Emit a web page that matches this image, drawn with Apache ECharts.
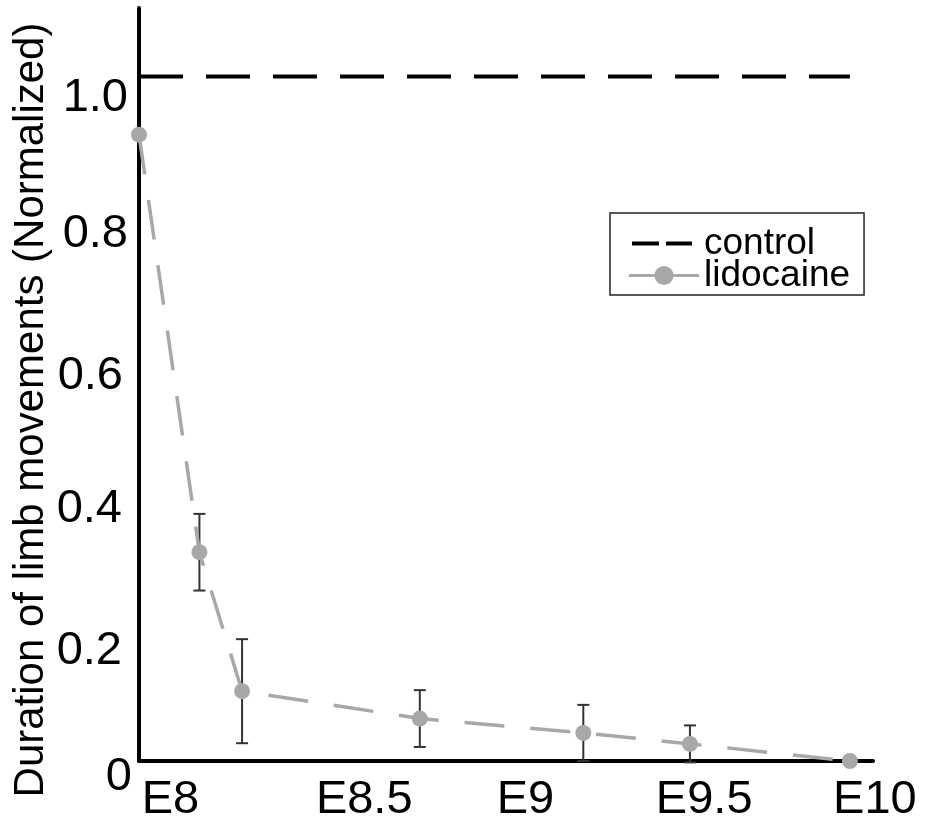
<!DOCTYPE html>
<html>
<head>
<meta charset="utf-8">
<style>
  html, body { margin: 0; padding: 0; background: #ffffff; }
  #chart { width: 944px; height: 824px; }
</style>
<script src="https://cdn.jsdelivr.net/npm/echarts@6/dist/echarts.min.js"></script>
</head>
<body>
<div id="chart"></div>
<script>
// Embryonic stage (days) of each measurement
const stages = [8.0, 8.17, 8.29, 8.79, 9.25, 9.55, 10.0];
// Normalized duration of limb movements under lidocaine
const lidocaine = [0.915, 0.305, 0.102, 0.062, 0.041, 0.025, 0.0];
// Error bar half-widths (same units as the values)
const lidocaineErr = [0, 0.056, 0.076, 0.0415, 0.041, 0.027, 0];
// Control level spans the whole stage range
const controlStages = [8.0, 10.0];
const controlLevel = [1.0, 1.0];
// Axis tick labels
const xTickLabels = ['E8', 'E8.5', 'E9', 'E9.5', 'E10'];
const xTickValues = [8, 8.5, 9, 9.5, 10];
const yTickLabels = ['0', '0.2', '0.4', '0.6', '0.8', '1.0'];

const FONT = '"Liberation Sans", Arial, Helvetica, sans-serif';
const GRAY = '#a8a8a8';
const LABEL_SIZE = 47;

const lidoData = stages.map((s, i) => [s, lidocaine[i]]);
const errData = stages.map((s, i) => [s, lidocaine[i] - lidocaineErr[i], lidocaine[i] + lidocaineErr[i]])
  .filter((d, i) => lidocaineErr[i] > 0);
const controlData = controlStages.map((s, i) => [s, controlLevel[i]]);

// Per-label nudges for the tick labels (rich-text padding)
const xPadLeft = [63, 95, 62, 64, 50];
const yPadTop = [32, 54, 44, 52, 42, 44];
const yPadRight = [0, 10, 10, 9, 4, 4];

function labelStyle(pad) {
  return { fontSize: LABEL_SIZE, fontFamily: FONT, color: '#000', padding: pad };
}
const xRich = {};
xTickLabels.forEach((t, i) => { xRich['x' + i] = labelStyle([0, 0, 0, xPadLeft[i]]); });
const yRich = {};
yTickLabels.forEach((t, i) => { yRich['y' + i] = labelStyle([yPadTop[i], yPadRight[i], 0, 0]); });

function xLabel(v) {
  for (let i = 0; i < xTickValues.length; i++) {
    if (Math.abs(v - xTickValues[i]) < 1e-6) return '{x' + i + '|' + xTickLabels[i] + '}';
  }
  return '';
}
function yLabel(v) {
  const idx = Math.round(v / 0.2);
  if (Math.abs(v - idx * 0.2) > 1e-6 || idx >= yTickLabels.length) return '';
  return '{y' + idx + '|' + yTickLabels[idx] + '}';
}

const chart = echarts.init(document.getElementById('chart'), null, { renderer: 'canvas' });

chart.setOption({
  animation: false,
  backgroundColor: '#ffffff',
  textStyle: { fontFamily: FONT },
  grid: { left: 139, right: 71, top: 8, bottom: 61, containLabel: false },
  xAxis: {
    type: 'value',
    min: 8,
    max: 10.065,
    interval: 0.5,
    axisLine: { show: true, onZero: false, lineStyle: { color: '#000', width: 4 } },
    axisTick: { show: false },
    splitLine: { show: false },
    axisLabel: {
      formatter: xLabel,
      showMaxLabel: false,
      color: '#000',
      fontFamily: FONT,
      fontSize: LABEL_SIZE,
      align: 'center',
      margin: 16,
      rich: xRich
    }
  },
  yAxis: {
    type: 'value',
    min: 0,
    max: 1.1,
    interval: 0.2,
    axisLine: { show: true, lineStyle: { color: '#000', width: 4 } },
    axisTick: { show: false },
    splitLine: { show: false },
    axisLabel: {
      formatter: yLabel,
      showMaxLabel: false,
      color: '#000',
      fontFamily: FONT,
      fontSize: LABEL_SIZE,
      margin: 7,
      verticalAlign: 'middle',
      rich: yRich
    }
  },
  legend: {
    orient: 'vertical',
    left: 610,
    top: 213,
    padding: [12, 14, 1, 17],
    itemWidth: 70,
    itemHeight: 24,
    itemGap: -5,
    borderColor: '#222',
    borderWidth: 1.5,
    borderRadius: 0,
    backgroundColor: '#fff',
    textStyle: { color: '#000', fontFamily: FONT, fontSize: 37, lineHeight: 33 },
    data: [
      {
        name: 'control',
        itemStyle: { opacity: 0 },
        lineStyle: { type: [27, 7, 26, 10], dashOffset: 67, width: 4, color: '#000' }
      },
      { name: 'lidocaine', lineStyle: { type: 'solid', width: 3, color: GRAY }, itemStyle: { color: GRAY } }
    ]
  },
  graphic: [{
    type: 'text',
    x: 31,
    y: 410,
    rotation: Math.PI / 2,
    style: {
      text: 'Duration of limb movements (Normalized)',
      font: '42px ' + FONT,
      fill: '#000',
      align: 'center',
      verticalAlign: 'middle'
    }
  }],
  series: [
    {
      name: 'control',
      type: 'line',
      data: controlData,
      symbol: 'none',
      clip: false,
      lineStyle: { color: '#000', width: 4, type: [44, 23] },
      itemStyle: { color: '#000' },
      z: 3
    },
    {
      name: 'lidocaine error',
      type: 'custom',
      data: errData,
      clip: false,
      z: 2,
      renderItem: function (params, api) {
        const x = api.value(0);
        const lo = api.coord([x, api.value(1)]);
        const hi = api.coord([x, api.value(2)]);
        const cap = 6;
        const style = { stroke: '#333', lineWidth: 2 };
        return {
          type: 'group',
          children: [
            { type: 'line', shape: { x1: lo[0], y1: lo[1], x2: hi[0], y2: hi[1] }, style: style },
            { type: 'line', shape: { x1: hi[0] - cap, y1: hi[1], x2: hi[0] + cap, y2: hi[1] }, style: style },
            { type: 'line', shape: { x1: lo[0] - cap, y1: lo[1], x2: lo[0] + cap, y2: lo[1] }, style: style }
          ]
        };
      }
    },
    {
      name: 'lidocaine',
      type: 'line',
      data: lidoData,
      symbol: 'circle',
      symbolSize: 16,
      clip: false,
      lineStyle: { color: GRAY, width: 3.5, type: [40, 26] },
      itemStyle: { color: GRAY },
      z: 4
    }
  ]
});
</script>
</body>
</html>
